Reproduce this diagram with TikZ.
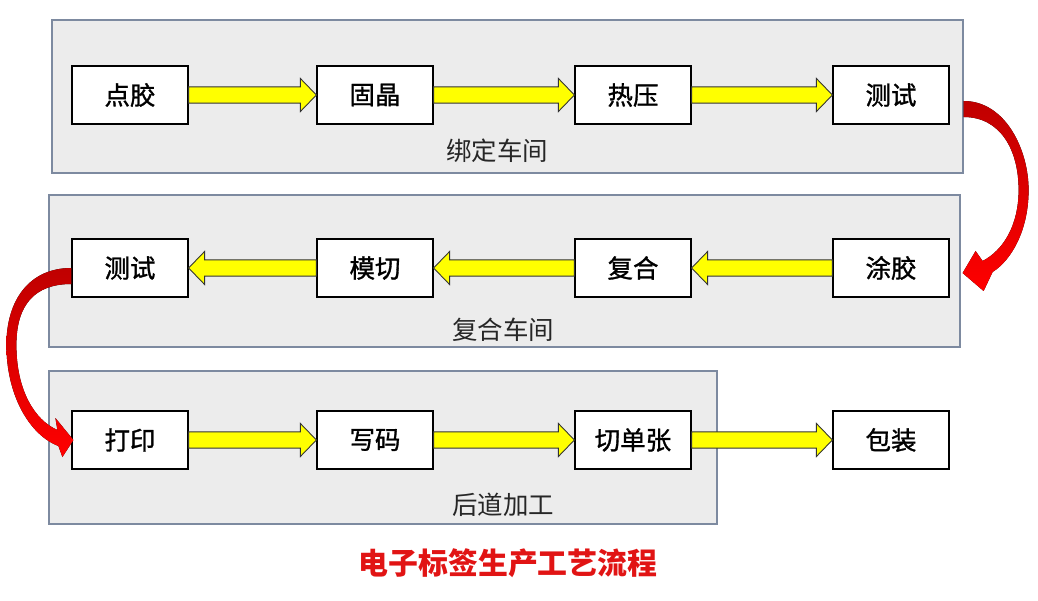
\documentclass[tikz,border=0pt]{standalone}
\usepackage{fontspec}
\newfontfamily\cjk{Noto Sans CJK SC}
\newfontfamily\cjkmid[FakeBold=1.2]{Noto Sans CJK SC}
\usetikzlibrary{calc}
\definecolor{panelgray}{RGB}{236,236,236}
\definecolor{paneledge}{RGB}{125,138,160}
\definecolor{flowyellow}{RGB}{255,255,0}
\definecolor{titlered}{RGB}{225,20,20}
\newcommand{\flowarrow}[2]{%
  \draw[flowarr] let \p1=(#1), \p2=(#2), \n1={(\x2>\x1) ? 1 : -1} in
    (\x1,\y1+4.6pt) -- (\x2-\n1*9.1pt,\y1+4.6pt) -- (\x2-\n1*9.1pt,\y1+9.4pt)
    -- (\x2,\y1) -- (\x2-\n1*9.1pt,\y1-9.4pt) -- (\x2-\n1*9.1pt,\y1-4.6pt)
    -- (\x1,\y1-4.6pt) -- cycle;}
\begin{document}
\begin{tikzpicture}[x=0.02cm, y=-0.02cm,
  font=\cjk,
  panel/.style={draw=paneledge, fill=panelgray, line width=0.6pt},
  stage/.style={draw=black, fill=white, line width=0.7pt, minimum width=2.32cm,
                minimum height=1.16cm, inner sep=0pt, font=\cjkmid\fontsize{14.5}{16}\selectfont},
  tag/.style={font=\cjk\fontsize{14.5}{16}\selectfont, text=black!85},
  flowarr/.style={draw=black!80, fill=flowyellow, line width=0.5pt, line join=miter},
  redbend/.style={shading=axis, top color=red!75!black, bottom color=red, draw=none}]
\useasboundingbox (0,0) rectangle (1038,601);
% workshop panels
\draw[panel] (52,20) rectangle (963,173);
\draw[panel] (49,195) rectangle (960,347);
\draw[panel] (49,371) rectangle (717,524);
\node[tag] (p1) at (497,151) {绑定车间};
\node[tag] (p2) at (503,330) {复合车间};
\node[tag] (p3) at (503,505) {后道加工};
% bonding row
\node[stage] (a1) at (130,95) {点胶};
\node[stage] (a2) at (375,95) {固晶};
\node[stage] (a3) at (633,95) {热压};
\node[stage] (a4) at (891,95) {测试};
% lamination row
\node[stage] (b1) at (130,268) {测试};
\node[stage] (b2) at (375,268) {模切};
\node[stage] (b3) at (633,268) {复合};
\node[stage] (b4) at (891,268) {涂胶};
% finishing row
\node[stage] (c1) at (130,440) {打印};
\node[stage] (c2) at (375,440) {写码};
\node[stage] (c3) at (633,440) {切单张};
\node[stage] (c4) at (891,440) {包装};
% yellow flow arrows
\flowarrow{a1.east}{a2.west} \flowarrow{a2.east}{a3.west} \flowarrow{a3.east}{a4.west}
\flowarrow{b4.west}{b3.east} \flowarrow{b3.west}{b2.east} \flowarrow{b2.west}{b1.east}
\flowarrow{c1.east}{c2.west} \flowarrow{c2.east}{c3.west} \flowarrow{c3.east}{c4.west}
% red bends between rows
\begin{scope}[shift={(a4.east)}]
  \fill[redbend] (14,6) .. controls (56,6) and (79,55) .. (79,95)
    .. controls (79,135) and (62,165) .. (43,177) -- (34,196) -- (13,178) -- (26,156)
    -- (33,166) .. controls (54,155) and (69,130) .. (69,95)
    .. controls (69,55) and (51,22) .. (14,22) -- cycle;
\end{scope}
\begin{scope}[shift={(b1.west)}]
  \fill[redbend] (0,0) .. controls (-42,0) and (-65,32) .. (-65,77)
    .. controls (-65,127) and (-42,167) .. (-13,178) -- (-9,189) -- (2,172) -- (-16,150)
    -- (-14,162) .. controls (-37,152) and (-55,122) .. (-55,77)
    .. controls (-55,37) and (-37,16) .. (0,16) -- cycle;
\end{scope}
% title
\node[font=\cjk\bfseries\fontsize{17}{20}\selectfont, text=titlered] (title) at (508,563) {电子标签生产工艺流程};
\end{tikzpicture}
\end{document}
